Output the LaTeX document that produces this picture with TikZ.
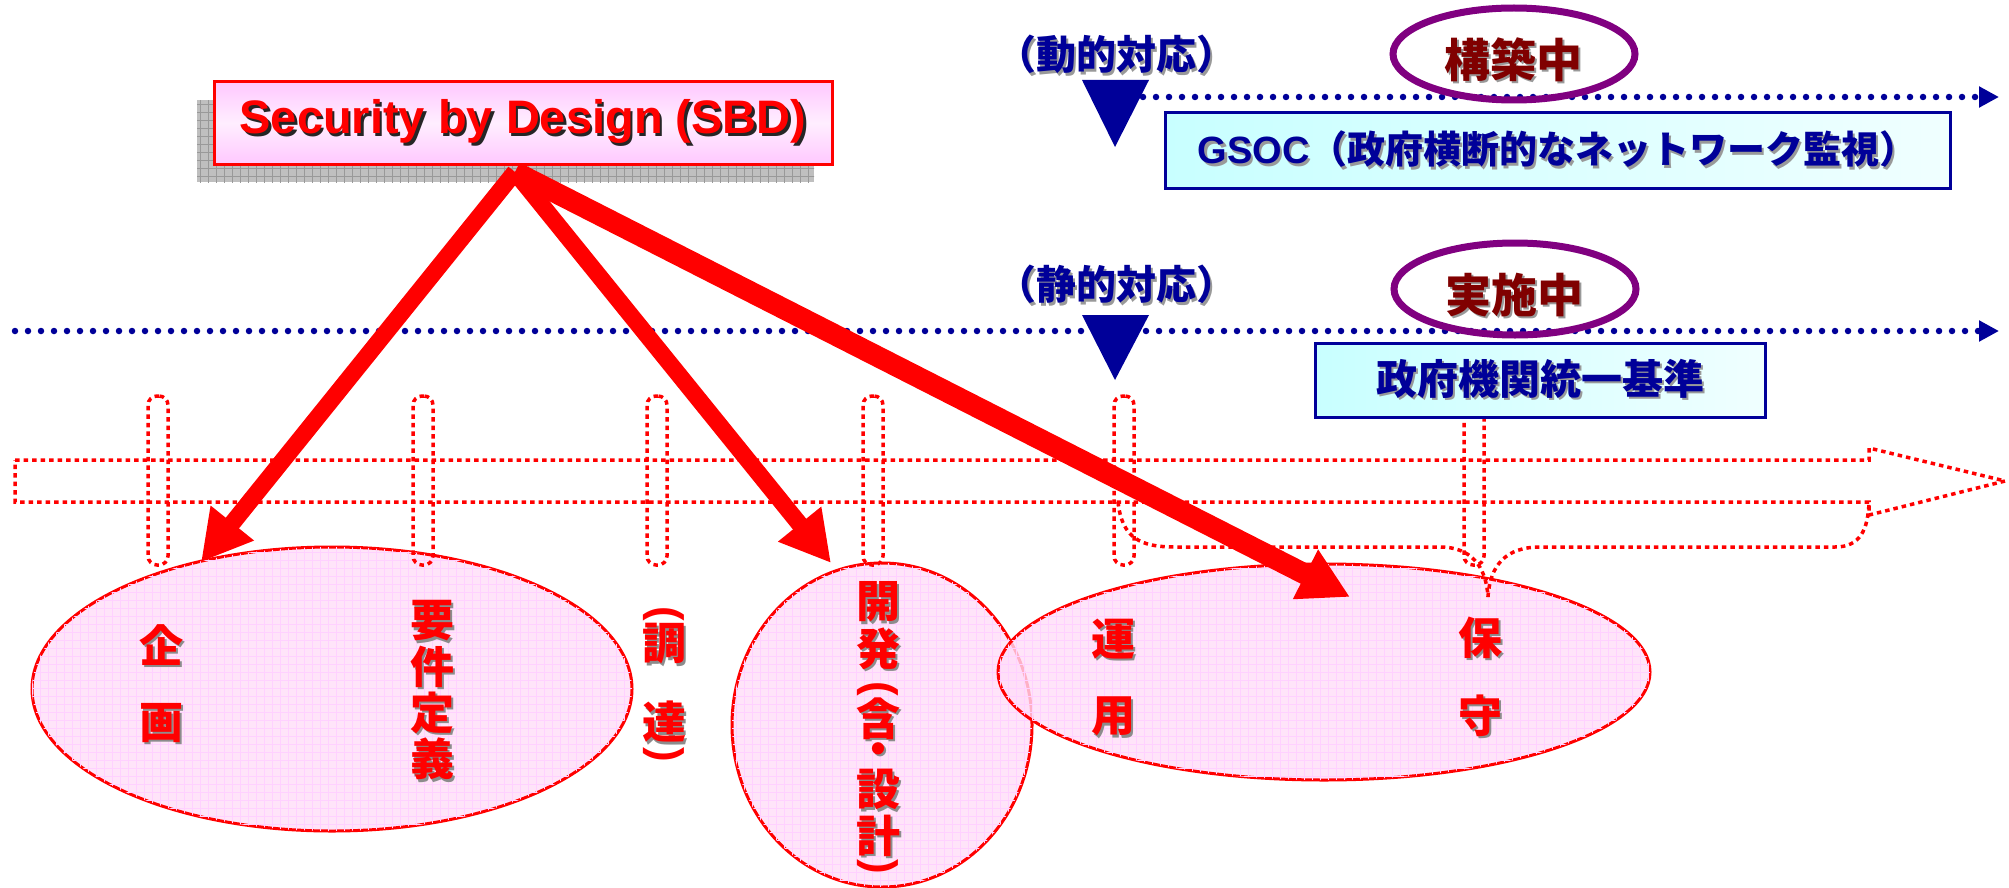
\documentclass[tikz,border=0pt]{standalone}
\usepackage{fontspec}
\setmainfont{Liberation Sans}
\newfontfamily\jp{Noto Sans CJK JP}
\usetikzlibrary{arrows.meta,shapes.geometric,patterns.meta}
\definecolor{navy}{HTML}{000099}
\definecolor{purp}{HTML}{800080}
\definecolor{dred}{HTML}{800000}
\definecolor{pinkf}{HTML}{FFDDF8}
\definecolor{pinkbox}{HTML}{FFC8FF}
\definecolor{pinkmid}{HTML}{FFEEFF}
\definecolor{cyanf}{HTML}{C8FFFF}
\definecolor{cyanl}{HTML}{F0FFFF}
\newcommand{\shtxt}[3]{\makebox[0pt][l]{\kern2.5pt\raisebox{-2.5pt}{\color{#2}#3}}{\color{#1}#3}}
\newcommand{\rs}[1]{\shtxt{red}{black!45}{#1}}
\newcommand{\ns}[1]{\shtxt{navy}{black!40}{#1}}
\begin{document}
\begin{tikzpicture}[x=1pt,y=-1pt,
  reddot/.style={draw=red,line width=3.5pt,dash pattern=on 4.5pt off 4pt},
  pill/.style={reddot,rectangle,rounded corners=9pt,minimum width=20pt,minimum height=169pt,inner sep=0pt},
  phase/.style={ellipse,draw=red,line width=3pt,fill=pinkf,fill opacity=0.8,inner sep=0pt,
     postaction={pattern={Lines[distance=8pt,angle=0,line width=0.5pt]},pattern color=magenta!18},
     postaction={pattern={Lines[distance=8pt,angle=90,line width=0.5pt]},pattern color=magenta!18}},
  vch/.style={font=\jp\bfseries\fontsize{44}{44}\selectfont,inner sep=0pt},
  vpar/.style={font=\bfseries\fontsize{44}{44}\selectfont,inner sep=0pt,rotate=-90,text=red},
  bluedots/.style={draw=navy,line width=6.5pt,line cap=round,dash pattern=on 0pt off 13pt,
     -{Triangle[length=20pt,width=20pt]}},
  bigarr/.style={draw=red,line width=17pt,-{Triangle[length=50pt,width=52pt]}},
  cbox/.style={rectangle,draw=navy,line width=3pt,left color=cyanf,right color=cyanl,inner sep=0pt},
  stat/.style={ellipse,draw=purp,line width=7pt,minimum width=242pt,minimum height=92pt,inner sep=0pt},
  navytxt/.style={font=\jp\bfseries\fontsize{40}{40}\selectfont,inner sep=0pt},
  sttxt/.style={font=\jp\bfseries\fontsize{46}{46}\selectfont,inner sep=0pt}
]
\useasboundingbox (0,0) rectangle (2009,888);

% shadow of SBD box
\fill[gray!50] (197,100) rectangle (814,182);
\fill[pattern={Lines[distance=8pt,angle=0,line width=0.8pt]},pattern color=gray!80] (197,100) rectangle (814,182);
\fill[pattern={Lines[distance=8pt,angle=90,line width=0.8pt]},pattern color=gray!80] (197,100) rectangle (814,182);

% blue dotted time lines
\coordinate (l1s) at (1143,97);
\coordinate (l1e) at (1999,97);
\coordinate (l2s) at (15,331);
\coordinate (l2e) at (1999,331);
\draw[bluedots] (l1s) -- (l1e);
\draw[bluedots] (l2s) -- (l2e);

% navy triangles
\fill[navy] (1082,80) -- (1149,80) -- (1115,147) -- cycle;
\fill[navy] (1082,315) -- (1149,315) -- (1115,380) -- cycle;

% labels
\node[navytxt] (dyn) at (1116,56) {\ns{（動的対応）}};
\node[navytxt] (sta) at (1116,286) {\ns{（静的対応）}};

% status ellipses
\node[stat] (e1) at (1514,54) {};
\node[sttxt] (t1) at (1513,61) {\shtxt{dred}{black!40}{構築中}};
\node[stat] (e2) at (1515,289) {};
\node[sttxt] (t2) at (1514,296) {\shtxt{dred}{black!40}{実施中}};

% phase ellipses
\node[phase,minimum width=600pt,minimum height=284pt] (kikaku) at (332,689) {};
\node[phase,minimum width=300pt,minimum height=324pt] (kaihatsu) at (882,725) {};
\node[phase,minimum width=652pt,minimum height=216pt] (unyo) at (1324,672) {};

% pills
\foreach \x [count=\i] in {158,423,657,873,1124,1474}
  \node[pill] (pill\i) at (\x,480.5) {};

% process arrow (dotted hollow)
\draw[reddot] (15,460) -- (1869,460) -- (1869,448) -- (2005,481) -- (1869,515) -- (1869,502) -- (15,502) -- cycle;

% brace
\draw[reddot] (1118,502) .. controls (1122,538) and (1140,547) .. (1175,547) -- (1440,547)
   .. controls (1470,547) and (1486,565) .. (1488,597);
\draw[reddot] (1488,597) .. controls (1490,565) and (1506,547) .. (1540,547) -- (1835,547)
   .. controls (1860,547) and (1868,530) .. (1869,502);

% cyan boxes
\node[cbox,minimum width=785pt,minimum height=75pt] (gsoc) at (1557.5,150.5)
  {\fontsize{38}{38}\selectfont\bfseries\ns{GSOC{\jp\bfseries（政府横断的なネットワーク監視）}}};
\node[cbox,minimum width=450pt,minimum height=74pt] (kijun) at (1540,380)
  {\jp\bfseries\fontsize{41}{41}\selectfont\ns{政府機関統一基準}};

% vertical phase texts
\node[vch] (c1) at (161,646) {\rs{企}};
\node[vch] (c2) at (161,724) {\rs{画}};
\node[vch] (c3) at (432,622) {\rs{要}};
\node[vch] (c4) at (432,668) {\rs{件}};
\node[vch] (c5) at (432,714) {\rs{定}};
\node[vch] (c6) at (432,760) {\rs{義}};
\node[vpar] (c7) at (664,614) {(};
\node[vch] (c8) at (664,645) {\rs{調}};
\node[vch] (c9) at (664,723) {\rs{達}};
\node[vpar] (c10) at (664,755) {)};
\node[vch] (c11) at (878,603) {\rs{開}};
\node[vch] (c12) at (878,650) {\rs{発}};
\node[vpar] (c13) at (878,689) {(};
\node[vch] (c14) at (878,720) {\rs{含}};
\node[vch] (c15) at (878,755) {\rs{・}};
\node[vch] (c16) at (878,791) {\rs{設}};
\node[vch] (c17) at (878,837) {\rs{計}};
\node[vpar] (c18) at (878,867) {)};
\node[vch] (c19) at (1113,640) {\rs{運}};
\node[vch] (c20) at (1113,718) {\rs{用}};
\node[vch] (c21) at (1480,639) {\rs{保}};
\node[vch] (c22) at (1480,717) {\rs{守}};

% big arrows
\coordinate (src) at (515,172);
\coordinate (a1) at (201,562);
\coordinate (a2) at (831,563);
\coordinate (a3) at (1350,597);
\draw[bigarr] (src) -- (a1);
\draw[bigarr] (src) -- (a2);
\draw[bigarr,line width=21pt] (src) -- (a3);

% SBD box
\node[rectangle,draw=red,line width=3pt,top color=pinkbox,bottom color=pinkbox,middle color=pinkmid,
  minimum width=618pt,minimum height=82pt,inner sep=0pt,font=\bfseries\fontsize{47}{47}\selectfont]
  (sbd) at (523,123) {\shtxt{red}{black!85}{Security by Design (SBD)}};
\end{tikzpicture}
\end{document}
